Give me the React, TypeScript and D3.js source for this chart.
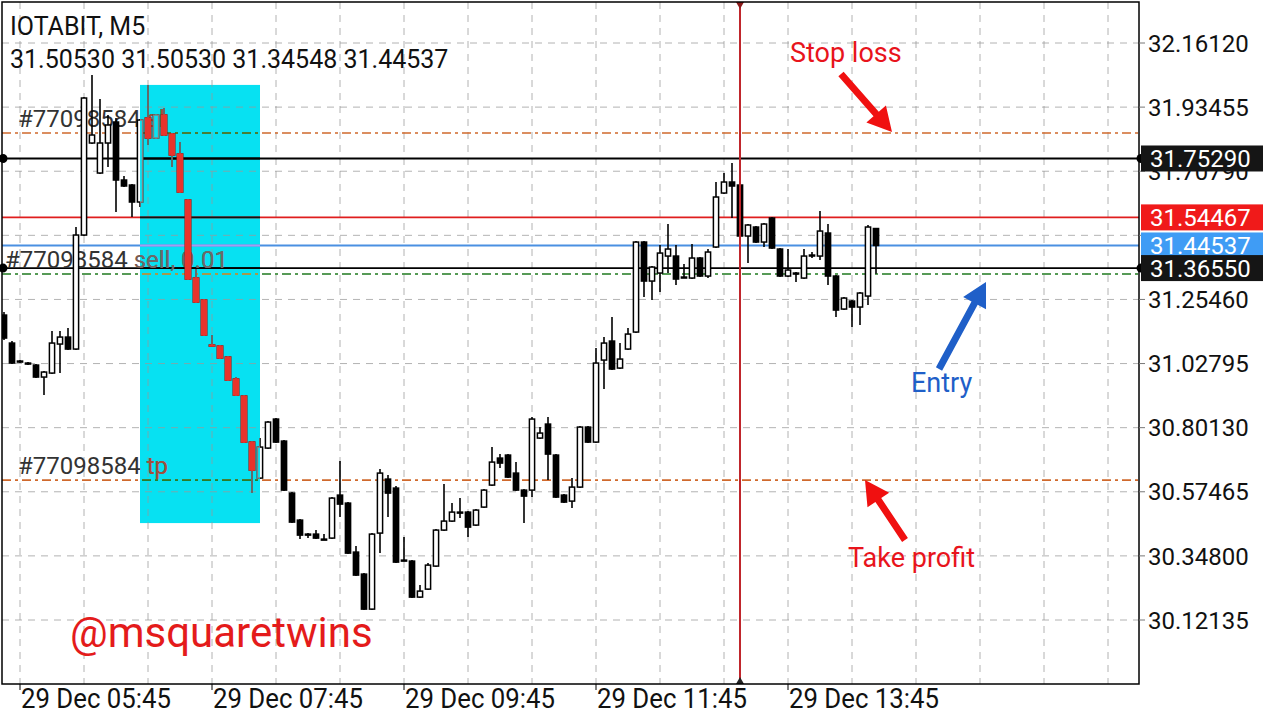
import React from "react";
import * as d3 from "d3";

// ---------- data ----------
const symbolTitle = "IOTABIT, M5";
const ohlcTitle = "31.50530 31.50530 31.34548 31.44537";

const opens = [
  31.1994, 31.1004, 31.0368, 31.0297, 31.0226, 30.9802, 30.9943, 31.0969, 31.1216, 31.0792,
  31.4823, 31.8076, 31.7015, 31.8076, 31.8819, 31.6768, 31.6591, 31.5990, 31.8960, 31.8253,
  31.9066, 31.8394, 31.7687, 31.6061, 31.3302, 31.2525, 31.0933, 31.0898, 31.0509, 30.9731,
  30.9130, 30.7503, 30.6230, 30.7291, 30.8317, 30.7539, 30.5700, 30.4745, 30.4250, 30.4250,
  30.4073, 30.4109, 30.5629, 30.5346, 30.3614, 30.2836, 30.1598, 30.4286, 30.6195, 30.5877,
  30.3331, 30.3296, 30.2023, 30.2305, 30.3119, 30.4392, 30.4710, 30.5028, 30.5028, 30.4569,
  30.5205, 30.5983, 30.6938, 30.7044, 30.6407, 30.5806, 30.5806, 30.7645, 30.8140, 30.7044,
  30.5629, 30.5417, 30.5912, 30.8034, 30.7503, 31.0403, 31.1075, 31.0120, 31.0792, 31.1393,
  31.4575, 31.3196, 31.3479, 31.4080, 31.4080, 31.3338, 31.3302, 31.4010, 31.3373, 31.4399,
  31.6308, 31.6697, 31.6591, 31.4788, 31.5106, 31.4575, 31.5424, 31.4328, 31.3373, 31.3479,
  31.3302, 31.4116, 31.4080, 31.4894, 31.3373, 31.2206, 31.2489, 31.2277, 31.2666, 31.5053,
];
const highs = [
  31.2100, 31.1075, 31.0403, 31.0332, 31.0261, 31.0014, 31.1428, 31.1428, 31.1534, 31.5106,
  31.9700, 32.0480, 31.9632, 31.9066, 31.8960, 31.6909, 31.6626, 31.8925, 32.0127, 31.9102,
  31.9314, 31.8430, 31.8111, 31.6096, 31.3621, 31.2560, 31.1287, 31.0933, 31.0544, 30.9802,
  30.9165, 30.7539, 30.7645, 30.8246, 30.8352, 30.7574, 30.5735, 30.4781, 30.4286, 30.4392,
  30.4250, 30.5559, 30.6832, 30.5382, 30.3826, 30.2871, 30.4286, 30.6549, 30.6337, 30.5948,
  30.4144, 30.3331, 30.2447, 30.3225, 30.4427, 30.6018, 30.5346, 30.5523, 30.5064, 30.5134,
  30.5841, 30.7327, 30.7079, 30.7079, 30.6796, 30.5841, 30.8387, 30.8034, 30.8387, 30.7079,
  30.5665, 30.6230, 30.8069, 30.8069, 31.0827, 31.1216, 31.1923, 31.1004, 31.1534, 31.4611,
  31.4611, 31.3727, 31.4469, 31.5212, 31.4469, 31.3797, 31.4505, 31.4045, 31.4328, 31.6697,
  31.7015, 31.7369, 31.6626, 31.5212, 31.5141, 31.5247, 31.5459, 31.4363, 31.4328, 31.3515,
  31.4328, 31.4222, 31.5672, 31.5212, 31.3408, 31.2631, 31.2525, 31.2807, 31.5177, 31.5053,
];
const lows = [
  31.1110, 31.0261, 31.0297, 31.0226, 30.9766, 30.9165, 30.9908, 30.9943, 31.0756, 31.0756,
  31.4788, 31.8041, 31.6980, 31.7227, 31.5636, 31.6520, 31.5459, 31.5813, 31.8005, 31.8217,
  31.8324, 31.7227, 31.6308, 31.3232, 31.2418, 31.1251, 31.0898, 31.0438, 30.9660, 30.9130,
  30.7468, 30.5700, 30.6195, 30.7256, 30.7468, 30.5771, 30.4639, 30.4073, 30.4109, 30.4073,
  30.4038, 30.4073, 30.4851, 30.3543, 30.2765, 30.1563, 30.1563, 30.3578, 30.4851, 30.3225,
  30.3296, 30.1987, 30.1987, 30.2270, 30.3083, 30.4356, 30.4675, 30.4816, 30.4144, 30.4533,
  30.5170, 30.5948, 30.6584, 30.6230, 30.5771, 30.4639, 30.5559, 30.7609, 30.6160, 30.5523,
  30.5346, 30.5170, 30.5877, 30.7468, 30.7468, 30.9378, 31.0049, 31.0085, 31.0756, 31.1358,
  31.2631, 31.2525, 31.2807, 31.3479, 31.3055, 31.3302, 31.3267, 31.3338, 31.3302, 31.4363,
  31.6273, 31.5424, 31.4752, 31.3833, 31.4540, 31.4399, 31.4328, 31.3338, 31.3338, 31.3161,
  31.3267, 31.4010, 31.3939, 31.3055, 31.1923, 31.2171, 31.1570, 31.1641, 31.2348, 31.34548,
];
const closes = [
  31.1181, 31.0297, 31.0350, 31.0279, 30.9802, 30.9979, 31.1004, 31.1216, 31.0792, 31.4823,
  31.9667, 31.8359, 31.8076, 31.8713, 31.6768, 31.6556, 31.5990, 31.8889, 31.8253, 31.9066,
  31.8359, 31.7652, 31.6343, 31.3267, 31.2454, 31.1287, 31.0916, 31.0474, 30.9696, 30.9165,
  30.7503, 30.6513, 30.7327, 30.8211, 30.7503, 30.5806, 30.4675, 30.4215, 30.4233, 30.4109,
  30.4056, 30.5523, 30.5311, 30.3578, 30.2801, 30.1598, 30.4250, 30.6407, 30.5700, 30.3260,
  30.3313, 30.2023, 30.2235, 30.3154, 30.4392, 30.4710, 30.5028, 30.5011, 30.4498, 30.5099,
  30.5806, 30.6796, 30.6761, 30.6266, 30.5806, 30.5594, 30.8317, 30.7822, 30.7079, 30.5559,
  30.5382, 30.5912, 30.8034, 30.7503, 31.0297, 31.1004, 31.0085, 31.0438, 31.1322, 31.4575,
  31.3196, 31.3691, 31.4186, 31.4328, 31.3267, 31.3320, 31.4010, 31.3373, 31.4222, 31.6167,
  31.6697, 31.6556, 31.4788, 31.5177, 31.4575, 31.5212, 31.4363, 31.3373, 31.3585, 31.3462,
  31.4080, 31.4098, 31.4964, 31.3373, 31.2171, 31.2595, 31.2277, 31.2772, 31.5106, 31.44537,
];

const startTime = new Date(2021, 11, 29, 5, 35);
const barMinutes = 5;

const priceTicks = [32.1612, 31.93455, 31.7079, 31.48125, 31.2546, 31.02795, 30.8013, 30.57465, 30.348, 30.12135];
// tick labels fully hidden behind the price boxes in the reference
const hiddenTickLabels = [31.48125];
const timeTickLabels = ["29 Dec 05:45", "29 Dec 07:45", "29 Dec 09:45", "29 Dec 11:45", "29 Dec 13:45"];
const timeTickValues = [
  new Date(2021, 11, 29, 5, 45),
  new Date(2021, 11, 29, 7, 45),
  new Date(2021, 11, 29, 9, 45),
  new Date(2021, 11, 29, 11, 45),
  new Date(2021, 11, 29, 13, 45),
];

const orderId = "#77098584";
const stopLossPrice = 31.843;
const takeProfitPrice = 30.616;
const entryPrice = 31.3444;
const levelHigh = 31.7529;
const levelAsk = 31.54467;
const levelBid = 31.44537;
const levelLow = 31.3655;
const crosshairTime = new Date(2021, 11, 29, 13, 15);
const highlightStart = new Date(2021, 11, 29, 7, 0);
const highlightEnd = new Date(2021, 11, 29, 8, 15);
const highlightTop = 32.013;
const highlightBottom = 30.464;

// ---------- layout ----------
const W = 1280;
const H = 720;
const plotLeft = 2;
const plotRight = 1139;
const plotTop = 2;
const plotBottom = 684;
const FONT = "Roboto, 'Noto Sans', sans-serif";

const timeAt = (i: number) => new Date(startTime.getTime() + i * barMinutes * 60000);
const xScale = d3.scaleTime().domain([timeAt(0), timeAt(142)]).range([4, 1140]);
const yScale = d3.scaleLinear().domain([30.12135, 32.1612]).range([620, 43]);

const gridTimes: Date[] = d3
  .range(0, 18)
  .map((k) => new Date(timeTickValues[0].getTime() + k * 40 * 60000));

function arrowPoints(x1: number, y1: number, x2: number, y2: number, shaft = 7, headLen = 24, headW = 26) {
  const dx = x2 - x1;
  const dy = y2 - y1;
  const len = Math.hypot(dx, dy);
  const ux = dx / len;
  const uy = dy / len;
  const px = -uy;
  const py = ux;
  const bx = x2 - ux * headLen;
  const by = y2 - uy * headLen;
  const pts = [
    [x1 + (px * shaft) / 2, y1 + (py * shaft) / 2],
    [bx + (px * shaft) / 2, by + (py * shaft) / 2],
    [bx + (px * headW) / 2, by + (py * headW) / 2],
    [x2, y2],
    [bx - (px * headW) / 2, by - (py * headW) / 2],
    [bx - (px * shaft) / 2, by - (py * shaft) / 2],
    [x1 - (px * shaft) / 2, y1 - (py * shaft) / 2],
  ];
  return pts.map((p) => p.join(",")).join(" ");
}

type Palette = { bullFill: string; bullStroke: string; bearFill: string; bearStroke: string; wick: string };
const normalPal: Palette = { bullFill: "#ffffff", bullStroke: "#000", bearFill: "#000", bearStroke: "#000", wick: "#000" };
const cyanPal: Palette = { bullFill: "#0be2f2", bullStroke: "#808080", bearFill: "#e8342c", bearStroke: "#e8342c", wick: "#7a7a7a" };

const CYAN = "#07e1f2";

function Candles({ pal }: { pal: Palette }) {
  return (
    <g>
      {opens.map((o, i) => {
        const c = closes[i];
        const x = xScale(timeAt(i));
        const bull = c >= o;
        const yTop = yScale(Math.max(o, c));
        const yBot = yScale(Math.min(o, c));
        const h = Math.max(1, yBot - yTop);
        return (
          <g key={i}>
            <line x1={x} x2={x} y1={yScale(highs[i])} y2={yScale(lows[i])} stroke={pal.wick} strokeWidth={1.6} />
            <rect
              x={x - 2.6}
              y={yTop}
              width={5.2}
              height={h}
              fill={bull ? pal.bullFill : pal.bearFill}
              stroke={bull ? pal.bullStroke : pal.bearStroke}
              strokeWidth={1.5}
            />
          </g>
        );
      })}
    </g>
  );
}

type LineDef = { price: number; color: string; alt: string; dash?: string; width: number };
const lineDefs: LineDef[] = [
  { price: stopLossPrice, color: "#d0692c", alt: "#2a7d2a", dash: "9,4,3,4", width: 1.6 },
  { price: takeProfitPrice, color: "#d0692c", alt: "#2a7d2a", dash: "9,4,3,4", width: 1.6 },
  { price: entryPrice, color: "#1f7a1f", alt: "#d89a48", dash: "9,4,3,4", width: 1.6 },
  { price: levelHigh, color: "#000", alt: "#000", width: 1.8 },
  { price: levelAsk, color: "#e01e1e", alt: "#111", width: 1.8 },
  { price: levelBid, color: "#4a90e2", alt: "#a79cf0", width: 1.8 },
  { price: levelLow, color: "#000", alt: "#000", width: 1.8 },
];

function Lines({ alt }: { alt: boolean }) {
  return (
    <g>
      {lineDefs.map((l, i) => (
        <line
          key={i}
          x1={plotLeft}
          x2={plotRight}
          y1={yScale(l.price)}
          y2={yScale(l.price)}
          stroke={alt ? l.alt : l.color}
          strokeWidth={l.width}
          strokeDasharray={l.dash}
        />
      ))}
    </g>
  );
}

type LabelDef = { x: number; price: number; suffix: string; altColor: string };
const orderLabels: LabelDef[] = [
  { x: 18, price: stopLossPrice, suffix: " sl", altColor: "#a0503c" },
  { x: 5, price: entryPrice, suffix: " sell, 0.01", altColor: "#6a6a6a" },
  { x: 18, price: takeProfitPrice, suffix: " tp", altColor: "#a0503c" },
];

function OrderLabels({ alt }: { alt: boolean }) {
  return (
    <g fontFamily={FONT} fontSize={24}>
      {orderLabels.map((l, i) => (
        <text key={i} x={l.x} y={yScale(l.price) - 6} fill={alt ? l.altColor : "#333"}>
          {orderId}
          <tspan fill={alt ? l.altColor : "#7a5a50"}>{l.suffix}</tspan>
        </text>
      ))}
    </g>
  );
}

const priceBoxes = [
  { price: levelHigh, fill: "#151515" },
  { price: levelAsk, fill: "#f01a1a" },
  { price: levelBid, fill: "#3f9cf5" },
  { price: levelLow, fill: "#151515" },
];

export default function App() {
  const hx0 = xScale(highlightStart);
  const hx1 = xScale(highlightEnd);
  const hy0 = yScale(highlightTop);
  const hy1 = yScale(highlightBottom);
  const cx = xScale(crosshairTime);

  return (
    <div style={{ position: "absolute", left: 0, top: 0, width: W, height: H, background: "#fff" }}>
      <svg width={W} height={H} style={{ display: "block" }}>
        <defs>
          <clipPath id="plotClip">
            <rect x={plotLeft} y={plotTop} width={plotRight - plotLeft} height={plotBottom - plotTop} />
          </clipPath>
          <clipPath id="cyanClip">
            <rect x={hx0} y={hy0} width={hx1 - hx0} height={hy1 - hy0} />
          </clipPath>
        </defs>
        <rect x={0} y={0} width={W} height={H} fill="#fff" />

        {/* highlight box */}
        <rect x={hx0} y={hy0} width={hx1 - hx0} height={hy1 - hy0} fill={CYAN} />

        {/* grid */}
        <g stroke="#9a9a9a" strokeOpacity={0.75} strokeWidth={1} strokeDasharray="7,6">
          {priceTicks.map((p, i) => (
            <line key={"h" + i} x1={plotLeft} x2={plotRight} y1={yScale(p)} y2={yScale(p)} />
          ))}
          {gridTimes.map((t, i) => (
            <line key={"v" + i} x1={xScale(t)} x2={xScale(t)} y1={plotTop} y2={plotBottom} />
          ))}
        </g>

        {/* level lines */}
        <Lines alt={false} />
        <g clipPath="url(#cyanClip)">
          <Lines alt={true} />
        </g>

        {/* titles */}
        <text x={10} y={35} fontFamily={FONT} fontSize={25} fill="#111">{symbolTitle}</text>
        <text x={10} y={68} fontFamily={FONT} fontSize={25} fill="#111">{ohlcTitle}</text>

        {/* order labels */}
        <OrderLabels alt={false} />
        <g clipPath="url(#cyanClip)">
          <OrderLabels alt={true} />
        </g>

        {/* candles */}
        <g clipPath="url(#plotClip)">
          <Candles pal={normalPal} />
        </g>
        <g clipPath="url(#cyanClip)">
          <Candles pal={cyanPal} />
        </g>

        {/* crosshair */}
        <line x1={cx} x2={cx} y1={plotTop} y2={plotBottom} stroke="#c0262c" strokeWidth={2} />
        <polygon points={`${cx - 4},${plotBottom} ${cx + 4},${plotBottom} ${cx},${plotBottom - 7}`} fill="#222" />
        <polygon points={`${cx - 4},${plotTop} ${cx + 4},${plotTop} ${cx},${plotTop + 7}`} fill="#8a1a1a" />

        {/* frame */}
        <rect x={plotLeft} y={plotTop} width={plotRight - plotLeft} height={plotBottom - plotTop} fill="none" stroke="#000" strokeWidth={1.5} />

        {/* level dots */}
        {[levelHigh, levelLow].map((p, i) => (
          <g key={"d" + i}>
            <circle cx={plotLeft + 1} cy={yScale(p)} r={4.5} fill="#000" />
            <circle cx={plotRight + 2} cy={yScale(p)} r={4.5} fill="#000" />
          </g>
        ))}

        {/* price axis */}
        <g fontFamily={FONT} fontSize={24} fill="#111">
          {priceTicks.map((p, i) => (
            <g key={"pt" + i}>
              <line x1={plotRight} x2={plotRight + 6} y1={yScale(p)} y2={yScale(p)} stroke="#777" />
              {hiddenTickLabels.includes(p) ? null : (
                <text x={1148} y={yScale(p)} dy="0.36em">{p.toFixed(5)}</text>
              )}
            </g>
          ))}
        </g>
        <g fontFamily={FONT} fontSize={24}>
          {priceBoxes.map((b, i) => (
            <g key={"pb" + i}>
              <rect x={plotRight + 2} y={yScale(b.price) - 13} width={122} height={26} fill={b.fill} />
              <text x={1150} y={yScale(b.price)} dy="0.36em" fill="#fff">{b.price.toFixed(5)}</text>
            </g>
          ))}
        </g>

        {/* time axis */}
        <g fontFamily={FONT} fontSize={27} fill="#111">
          {timeTickValues.map((t, i) => (
            <g key={"tt" + i}>
              <line x1={xScale(t)} x2={xScale(t)} y1={plotBottom} y2={plotBottom + 6} stroke="#000" />
              <text x={xScale(t) + 1} y={708} textLength={150} lengthAdjust="spacingAndGlyphs">
                {timeTickLabels[i]}
              </text>
            </g>
          ))}
        </g>

        {/* annotations */}
        <g fontFamily={FONT}>
          <text x={790} y={62} fontSize={27} fill="#e8141c">Stop loss</text>
          <polygon points={arrowPoints(841, 74, 892, 132)} fill="#f01010" />
          <text x={911} y={392} fontSize={27} fill="#1f5fc8">Entry</text>
          <polygon points={arrowPoints(939, 369, 986, 282)} fill="#1f5fc8" />
          <text x={848} y={567} fontSize={27} fill="#e8141c">Take profit</text>
          <polygon points={arrowPoints(905, 540, 865, 480)} fill="#f01010" />
          <text x={70} y={647} fontSize={42} fill="#e41b1b">@msquaretwins</text>
        </g>
      </svg>
    </div>
  );
}
